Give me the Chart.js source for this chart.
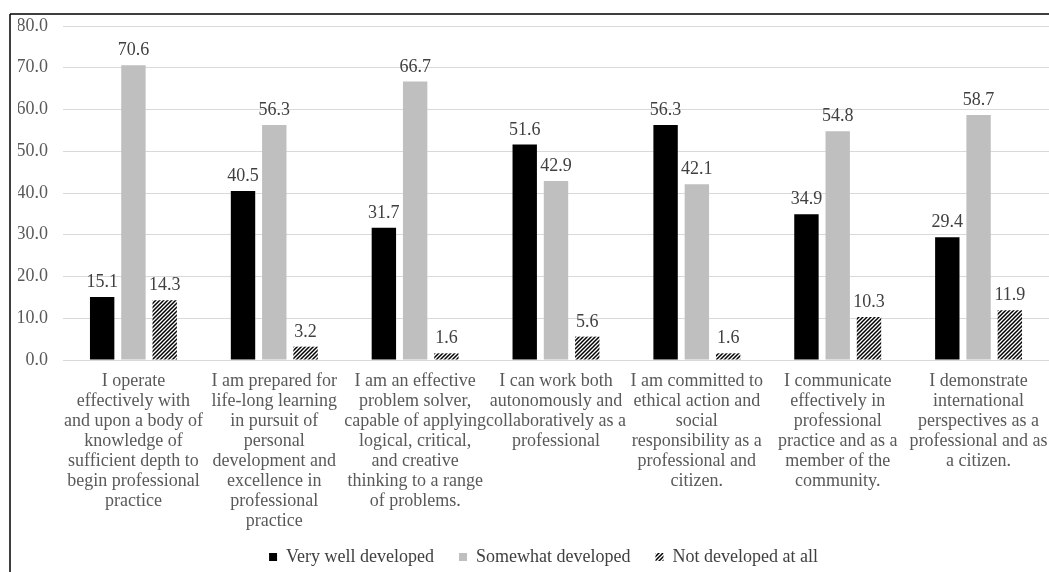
<!DOCTYPE html>
<html>
<head>
<meta charset="utf-8">
<script src="https://cdn.jsdelivr.net/npm/chart.js@4.4.1/dist/chart.umd.min.js"></script>
<style>
html,body{margin:0;padding:0;background:#fff;}
#wrap{width:1049px;height:572px;position:relative;}
</style>
</head>
<body>
<div id="wrap"><canvas id="c" width="1049" height="572"></canvas></div>
<script>
const categories = [
  ["I operate","effectively with","and upon a body of","knowledge of","sufficient depth to","begin professional","practice"],
  ["I am prepared for","life-long learning","in pursuit of","personal","development and","excellence in","professional","practice"],
  ["I am an effective","problem solver,","capable of applying","logical, critical,","and creative","thinking to a range","of problems."],
  ["I can work both","autonomously and","collaboratively as a","professional"],
  ["I am committed to","ethical action and","social","responsibility as a","professional and","citizen."],
  ["I communicate","effectively in","professional","practice and as a","member of the","community."],
  ["I demonstrate","international","perspectives as a","professional and as","a citizen."]
];
const seriesNames = ["Very well developed","Somewhat developed","Not developed at all"];
const veryWell = [15.1, 40.5, 31.7, 51.6, 56.3, 34.9, 29.4];
const somewhat = [70.6, 56.3, 66.7, 42.9, 42.1, 54.8, 58.7];
const notAtAll = [14.3, 3.2, 1.6, 5.6, 1.6, 10.3, 11.9];
const yTicks = [0, 10, 20, 30, 40, 50, 60, 70, 80];

function hatch(){
  const n = 4;
  const p = document.createElement('canvas');
  p.width = n; p.height = n;
  const g = p.getContext('2d');
  g.fillStyle = '#fff'; g.fillRect(0,0,n,n);
  g.strokeStyle = '#000'; g.lineWidth = 1.5;
  g.beginPath();
  g.moveTo(-1,n+1); g.lineTo(n+1,-1);
  g.moveTo(-1,1); g.lineTo(1,-1);
  g.moveTo(n-1,n+1); g.lineTo(n+1,n-1);
  g.stroke();
  return g.createPattern(p,'repeat');
}
const FONT = "'Liberation Serif','Times New Roman',serif";

const labelPlugin = {
  id:'vals',
  afterInit(chart){
    const lg = chart.legend;
    if(!lg) return;
    const fit = lg.fit;
    lg.fit = function(){ fit.call(this); this.height = 30; };
    const draw = lg.draw;
    lg.draw = function(){
      const s = {top:this.top, bottom:this.bottom, left:this.left, right:this.right};
      const pad = this.options.labels.padding;
      this.top = 557 - 9 - pad;
      this.left += 10; this.right += 10;
      draw.apply(this, arguments);
      Object.assign(this, s);
    };
  },
  afterDatasetsDraw(chart){
    const ctx = chart.ctx;
    ctx.save();
    ctx.font = "18px " + FONT;
    ctx.fillStyle = '#404040';
    ctx.textAlign = 'center';
    ctx.textBaseline = 'alphabetic';
    chart.data.datasets.forEach((ds,i)=>{
      chart.getDatasetMeta(i).data.forEach((bar,j)=>{
        ctx.fillText(ds.data[j].toFixed(1), bar.x, bar.y - 10);
      });
    });
    ctx.restore();
  },
  afterDraw(chart){
    const ctx = chart.ctx;
    ctx.save();
    ctx.strokeStyle = '#000';
    ctx.lineWidth = 1.5;
    ctx.beginPath();
    ctx.moveTo(10, 14); ctx.lineTo(1049, 14);
    ctx.moveTo(10, 14); ctx.lineTo(10, 572);
    ctx.stroke();
    ctx.restore();
  }
};

new Chart(document.getElementById('c'), {
  type:'bar',
  data:{
    labels: categories,
    datasets:[
      {label:seriesNames[0], data:veryWell, backgroundColor:'#000000'},
      {label:seriesNames[1], data:somewhat, backgroundColor:'#bfbfbf'},
      {label:seriesNames[2], data:notAtAll, backgroundColor:hatch()}
    ]
  },
  options:{
    responsive:false,
    animation:false,
    devicePixelRatio:1,
    layout:{padding:{top:26,left:18,right:0,bottom:0}},
    datasets:{bar:{categoryPercentage:0.666, barPercentage:0.78}},
    plugins:{
      legend:{
        position:'bottom',
        labels:{
          font:{family:FONT,size:18},
          color:'#404040',
          boxWidth:8, boxHeight:8,
          padding:25
        }
      },
      tooltip:{enabled:false}
    },
    scales:{
      y:{
        min:0, max:80,
        afterBuildTicks(axis){ axis.ticks = yTicks.map(v=>({value:v})); },
        afterFit(axis){ axis.width = 45; axis.paddingLeft = 0; axis.paddingRight = 0; },
        ticks:{
          callback:v=>v.toFixed(1),
          font:{family:FONT,size:18},
          color:'#595959',
          padding:15
        },
        grid:{color:'#d9d9d9', drawTicks:false, lineWidth:1},
        border:{display:false}
      },
      x:{
        afterFit(axis){ axis.paddingLeft = 0; axis.paddingRight = 0; },
        ticks:{
          font:{family:FONT,size:18,lineHeight:20/18},
          color:'#595959',
          maxRotation:0, minRotation:0, autoSkip:false,
          padding:11
        },
        grid:{display:false, drawTicks:false},
        border:{display:false}
      }
    }
  },
  plugins:[labelPlugin]
});
</script>
</body>
</html>
